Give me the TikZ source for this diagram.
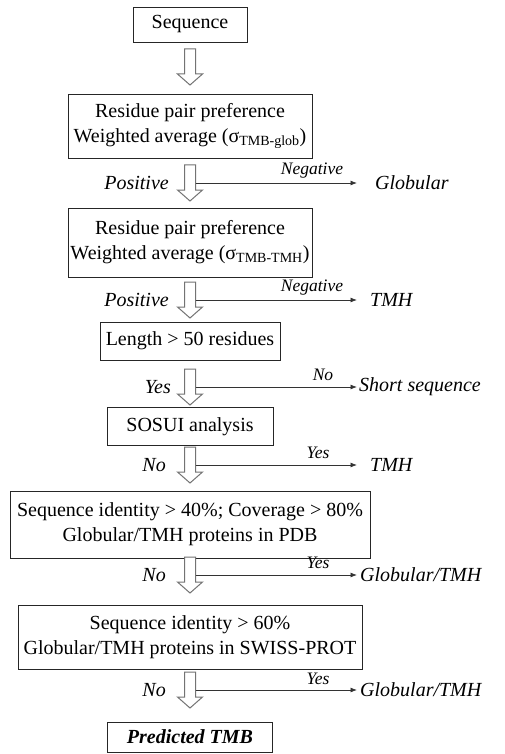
\documentclass[tikz,border=0pt]{standalone}
\usepackage{fontspec}
\setmainfont{Liberation Serif}
\usetikzlibrary{arrows.meta}
\begin{document}
\begin{tikzpicture}[x=1pt,y=-1pt,
  box/.style={draw=black!85, line width=0.9pt, fill=white, align=center,
              inner sep=0pt, font=\fontsize{20}{25}\selectfont},
  lab/.style={inner sep=0pt, font=\fontsize{20}{24}\selectfont\itshape},
  branch/.style={inner sep=0pt, font=\fontsize{17.5}{20}\selectfont\itshape},
  side/.style={draw=black!80, line width=0.8pt, -{Latex[length=6.5pt,width=5pt]}},
  hollow/.pic={
    \draw[draw=black!55, line width=1pt, fill=white]
      (-5.5,-18) -- (5.5,-18) -- (5.5,7) -- (12.5,7) -- (0,18)
      -- (-12.5,7) -- (-5.5,7) -- cycle;
    \coordinate (-r) at (5.5,0);
  }
]
% page
\fill[white] (0,0) rectangle (504,754);
\useasboundingbox (0,0) rectangle (504,754);

% main column of steps
\node[box, minimum width=114, minimum height=35] (seq) at (190,24.5) {Sequence};
\pic (a0) at (190,67) {hollow};
\node[box, minimum width=244, minimum height=64] (pairglob) at (190,126)
  {Residue pair preference\\Weighted average (σ\textsubscript{TMB-glob})};
\node[box, minimum width=244, minimum height=69] (pairtmh) at (190,242.5)
  {Residue pair preference\\Weighted average (σ\textsubscript{TMB-TMH})};
\node[box, minimum width=180, minimum height=38] (len) at (190,341) {Length > 50 residues};
\node[box, minimum width=166, minimum height=38] (sosui) at (190,426.5) {SOSUI analysis};
\node[box, minimum width=360, minimum height=67] (pdb) at (190,524.5)
  {Sequence identity > 40\%; Coverage > 80\%\\Globular/TMH proteins in PDB};
\node[box, minimum width=344, minimum height=64] (swiss) at (190,637)
  {Sequence identity > 60\%\\Globular/TMH proteins in SWISS-PROT};
\node[box, minimum width=165, minimum height=30, font=\fontsize{20}{24}\selectfont\bfseries\itshape]
  (pred) at (190,737) {Predicted TMB};

% decision rows: hollow arrow down, thin arrow to the side outcome
\pic (a1) at (190,183) {hollow};
\node[lab, anchor=east] (c1) at (169,183) {Positive};
\node[lab, anchor=west] (o1) at (375,183) {Globular};
\draw[side, shorten >=18pt] (a1-r) -- (o1.west);
\node[branch] (n1) at (312,171) {Negative};

\pic (a2) at (190,300) {hollow};
\node[lab, anchor=east] (c2) at (169,300) {Positive};
\node[lab, anchor=west] (o2) at (370,300) {TMH};
\draw[side, shorten >=13pt] (a2-r) -- (o2.west);
\node[branch] (n2) at (312,288) {Negative};

\pic (a3) at (190,387) {hollow};
\node[lab, anchor=east] (c3) at (171,387) {Yes};
\node[lab, anchor=west] (o3) at (359,387) {Short sequence};
\draw[side, shorten >=2pt] (a3-r) -- (o3.west);
\node[branch] (n3) at (323,375) {No};

\pic (a4) at (190,465) {hollow};
\node[lab, anchor=east] (c4) at (166,465) {No};
\node[lab, anchor=west] (o4) at (370,465) {TMH};
\draw[side, shorten >=13pt] (a4-r) -- (o4.west);
\node[branch] (n4) at (318,453) {Yes};

\pic (a5) at (190,575) {hollow};
\node[lab, anchor=east] (c5) at (166,575) {No};
\node[lab, anchor=west] (o5) at (360,575) {Globular/TMH};
\draw[side, shorten >=3pt] (a5-r) -- (o5.west);
\node[branch] (n5) at (318,563) {Yes};

\pic (a6) at (190,690) {hollow};
\node[lab, anchor=east] (c6) at (166,690) {No};
\node[lab, anchor=west] (o6) at (360,690) {Globular/TMH};
\draw[side, shorten >=3pt] (a6-r) -- (o6.west);
\node[branch] (n6) at (318,679) {Yes};
\end{tikzpicture}
\end{document}
